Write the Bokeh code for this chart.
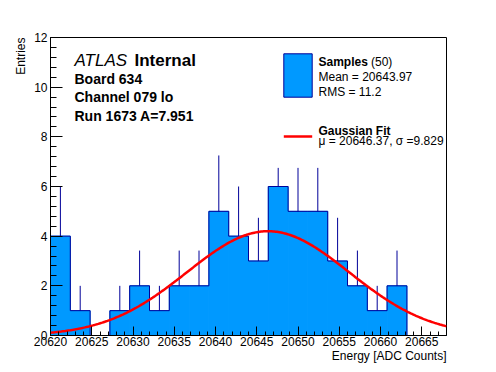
import numpy as np
from bokeh.plotting import figure
from bokeh.models import Range1d, FixedTicker, Label, Title
from bokeh.embed import file_html
from bokeh.resources import INLINE

# ---------------- data ----------------
bin_start = 20620.0
bin_width = 2.4
counts = [4, 1, 0, 1, 2, 1, 2, 2, 5, 4, 3, 6, 5, 5, 3, 2, 1, 2, 0, 0]
err_up = [2.0, 1.0, 0.0, 1.0, 1.42, 1.0, 1.42, 1.42, 2.25, 2.0,
          1.74, 0.75, 1.75, 1.75, 1.74, 1.42, 1.0, 1.42, 0.0, 0.0]
fit_mu = 20646.37
fit_sigma = 9.829
fit_amp = 4.2
n_samples = 50
sample_mean = 20643.97
sample_rms = 11.2
x_ticks = [20620, 20625, 20630, 20635, 20640, 20645, 20650, 20655, 20660, 20665]
y_ticks = [0, 2, 4, 6, 8, 10, 12]
x_title = "Energy [ADC Counts]"
y_title = "Entries"

# ---------------- styles ----------------
FILL = "#0099ff"
NAVY = "#000099"
RED = "#ff0000"
FONT = "Liberation Sans"

W, H = 496, 372
BL, BR, BT, BB = 50, 50, 37, 37
FW, FH = W - BL - BR, H - BT - BB

nb = len(counts)
edges = [bin_start + i * bin_width for i in range(nb + 1)]
x0, x1 = edges[0], edges[-1]
y0, y1 = 0, 12

p = figure(width=W, height=H, output_backend="svg", toolbar_location=None,
           x_range=Range1d(x0, x1), y_range=Range1d(y0, y1),
           min_border_left=BL, min_border_right=BR,
           min_border_top=BT, min_border_bottom=BB)
p.xgrid.visible = False
p.ygrid.visible = False
p.outline_line_color = "black"
p.outline_line_width = 1
p.background_fill_color = "white"
p.border_fill_color = "white"


def fx(px):
    """frame-relative pixel -> data x"""
    return x0 + px * (x1 - x0) / FW


def fy(py):
    """frame-relative pixel (from top) -> data y"""
    return y1 - py * (y1 - y0) / FH


# histogram
lefts = edges[:-1]
rights = edges[1:]
p.quad(left=lefts, right=rights, bottom=[0] * nb, top=counts,
       fill_color=FILL, line_color=FILL, line_width=1)
p.step(x=edges, y=counts + [0], mode="after", line_color=NAVY, line_width=1)

# error bars (upper part visible)
cx = [(a + b) / 2 for a, b in zip(lefts, rights)]
ex, ey0, ey1 = [], [], []
for c, n, e in zip(cx, counts, err_up):
    if n > 0:
        ex.append(c)
        ey0.append(n)
        ey1.append(n + e)
p.segment(x0=ex, y0=ey0, x1=ex, y1=ey1, line_color=NAVY, line_width=1)

# gaussian fit
gx = np.linspace(x0, x1, 300)
gy = fit_amp * np.exp(-0.5 * ((gx - fit_mu) / fit_sigma) ** 2)
p.line(gx, gy, line_color=RED, line_width=2.5)

# axes
for ax in (p.xaxis[0], p.yaxis[0]):
    ax.axis_line_color = "black"
    ax.major_tick_line_color = "black"
    ax.minor_tick_line_color = "black"
    ax.major_tick_out = 0
    ax.minor_tick_out = 0
    ax.major_label_text_font = FONT
    ax.major_label_text_font_size = "12px"
    ax.major_label_text_color = "black"
p.xaxis.major_label_standoff = 1
p.yaxis.major_label_standoff = 3
p.xaxis.ticker = FixedTicker(ticks=x_ticks,
                             minor_ticks=list(np.arange(20620, 20669, 1)))
p.yaxis.ticker = FixedTicker(ticks=y_ticks,
                             minor_ticks=list(np.round(np.arange(0, 12.01, 0.4), 2)))
p.xaxis.major_tick_in = 9
p.xaxis.minor_tick_in = 4
p.yaxis.major_tick_in = 12
p.yaxis.minor_tick_in = 6

# axis titles: side titles aligned to the frame's end
tx = Title(text=x_title, align="right", text_font=FONT,
           text_font_size="12px", text_font_style="normal",
           text_color="black", offset=0, standoff=0)
try:
    tx.standoff = -4
except ValueError:
    tx.vertical_align = "top"
p.add_layout(tx, "below")
ty = Title(text=y_title, align="right", text_font=FONT,
           text_font_size="12px", text_font_style="normal",
           text_color="black", offset=0, standoff=8)
p.add_layout(ty, "left")


def txt(s, dx, dy, size="12px", style="normal"):
    """dx,dy: offsets in px from the frame's top-left corner (dy down)."""
    p.add_layout(Label(x=x0, y=y1, x_offset=dx, y_offset=-(dy - 4), text=s,
                       text_font=FONT, text_font_size=size,
                       text_font_style=style, text_color="black",
                       text_baseline="alphabetic"))


# ATLAS block
txt("ATLAS", 24, 27, size="17px", style="italic")
txt("Internal", 84, 27, size="17px", style="bold")
txt("Board 634", 24, 45, size="14px", style="bold")
txt("Channel 079 lo", 24, 63.5, size="14px", style="bold")
txt("Run 1673 A=7.951", 24, 82, size="14px", style="bold")

# legend
p.quad(left=[fx(233.3)], right=[fx(261.7)], top=[fy(16.3)], bottom=[fy(59.7)],
       fill_color=FILL, line_color=NAVY, line_width=1)
p.line([fx(233.3), fx(261.7)], [fy(99), fy(99)], line_color=RED, line_width=2.5)
txt("Samples", 268, 28.5, style="bold")
txt(f"({n_samples})", 320.5, 28.5)
txt(f"Mean = {sample_mean:.2f}", 268, 43.7)
txt(f"RMS = {sample_rms}", 268, 58)
txt("Gaussian Fit", 268, 97, style="bold")
txt(f"\u03bc = {fit_mu:.2f}, \u03c3 ={fit_sigma:.3f}", 268, 107.3)

open("out.html", "w").write(file_html(p, INLINE))
